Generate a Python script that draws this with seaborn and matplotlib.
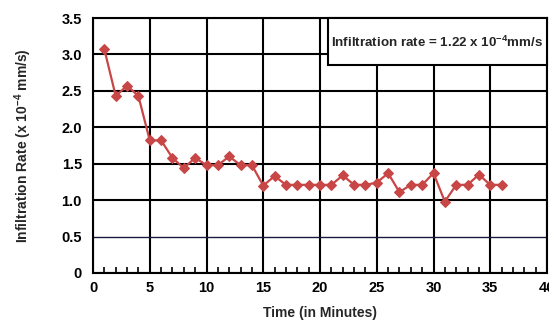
import matplotlib
matplotlib.use("Agg")
import matplotlib.pyplot as plt
import seaborn as sns
import pandas as pd
import numpy as np
from matplotlib.ticker import MultipleLocator, FixedLocator
from matplotlib.patches import Rectangle

minutes = list(range(1, 37))
rates = [3.07, 2.43, 2.57, 2.43, 1.82, 1.82, 1.58, 1.44, 1.58, 1.48,
         1.48, 1.60, 1.48, 1.48, 1.20, 1.33, 1.21, 1.21, 1.21, 1.21,
         1.21, 1.34, 1.21, 1.21, 1.24, 1.37, 1.11, 1.21, 1.21, 1.37,
         0.98, 1.21, 1.21, 1.35, 1.21, 1.21]
x_ticks = [0, 5, 10, 15, 20, 25, 30, 35, 40]
y_ticks = [0, 0.5, 1.0, 1.5, 2.0, 2.5, 3.0, 3.5]
y_tick_labels = ["0", "0.5", "1.0", "1.5", "2.0", "2.5", "3.0", "3.5"]
annotation = r"Infiltration rate = 1.22 x 10$^{-4}$mm/s"
x_label = "Time (in Minutes)"
y_label = r"Infiltration Rate (x 10$^{-4}$ mm/s)"

df = pd.DataFrame({"Time": minutes, "Rate": rates})

sns.set_style("white")
fam = ["Liberation Sans", "DejaVu Sans"]
plt.rcParams["font.family"] = fam
plt.rcParams["mathtext.fontset"] = "custom"
plt.rcParams["mathtext.rm"] = "Liberation Sans:bold"
plt.rcParams["mathtext.it"] = "Liberation Sans:bold"
plt.rcParams["mathtext.bf"] = "Liberation Sans:bold"

fig = plt.figure(figsize=(5.49, 3.21), dpi=100)
ax = fig.add_axes([93/549, 1 - 273/321, 454/549, 255/321])

red = "#c84646"
sns.lineplot(data=df, x="Time", y="Rate", ax=ax, color=red, linewidth=1.6,
             marker="D", markersize=5.5, markeredgecolor=red, markerfacecolor=red)

ax.set_xlim(0, 40)
ax.set_ylim(0, 3.5)
ax.xaxis.set_major_locator(FixedLocator(x_ticks))
ax.xaxis.set_minor_locator(MultipleLocator(1))
ax.yaxis.set_major_locator(FixedLocator(y_ticks))
ax.set_yticklabels(y_tick_labels)
ax.set_xticklabels([str(t) for t in x_ticks])

ax.grid(True, which="major", color="black", linewidth=1.5)
gl = ax.yaxis.get_gridlines()
gl[1].set_color("#1a1a40")
gl[1].set_linewidth(1.0)
ax.set_axisbelow(True)

for s in ax.spines.values():
    s.set_color("black")
    s.set_linewidth(1.5)

ax.tick_params(axis="y", which="major", direction="out", length=6, width=1.5,
               labelsize=10.5, pad=2, colors="black")
ax.tick_params(axis="x", which="major", direction="inout", length=6, width=1.5,
               labelsize=10.5, pad=3, colors="black")
ax.tick_params(axis="x", which="minor", direction="in", length=4, width=1.2,
               bottom=True, colors="black")
for lbl in ax.get_xticklabels() + ax.get_yticklabels():
    lbl.set_fontweight("bold")

ax.set_xlabel(x_label, fontsize=10, fontweight="bold", labelpad=8)
ax.set_ylabel(y_label, fontsize=10, fontweight="bold", labelpad=20)

rect = Rectangle((0.517, 0.816), 0.483, 0.184, transform=ax.transAxes,
                 facecolor="white", edgecolor="black", linewidth=1.5,
                 zorder=5, clip_on=False)
ax.add_patch(rect)
ax.text(0.7585, 0.905, annotation, transform=ax.transAxes, ha="center",
        va="center", fontsize=9.6, fontweight="bold", zorder=6)

fig.savefig("out.png", dpi=100)
